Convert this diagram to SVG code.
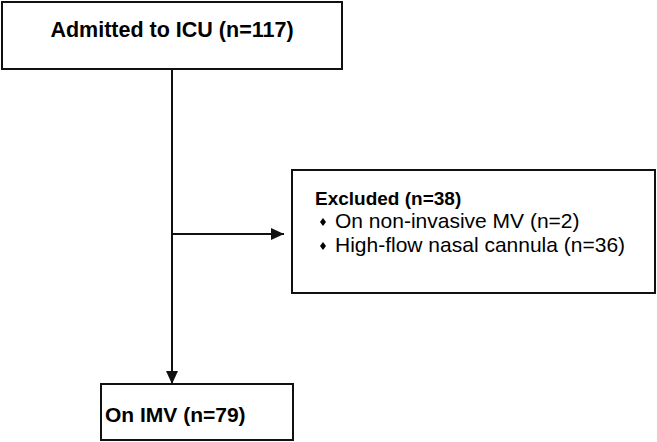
<svg xmlns="http://www.w3.org/2000/svg" width="657" height="442" viewBox="0 0 657 442">
<style>
.box{fill:#fff;stroke:#111;stroke-width:2}
.ln{stroke:#111;stroke-width:2;fill:none}
.t{font-family:"Liberation Sans",Arial,sans-serif;fill:#000}
.b{font-weight:bold}
</style>
<defs>
<marker id="ah" markerWidth="13" markerHeight="12" refX="13" refY="6" orient="auto" markerUnits="userSpaceOnUse">
<path d="M0,0 L13,6 L0,12 Z" fill="#111"/>
</marker>
</defs>
<rect width="657" height="442" fill="#fff"/>
<g id="connectors">
<line class="ln" x1="172" y1="69" x2="172" y2="384" marker-end="url(#ah)"/>
<line class="ln" x1="172" y1="234" x2="284" y2="234" marker-end="url(#ah)"/>
</g>
<g id="admitted">
<rect class="box" x="2" y="2" width="340" height="67"/>
<text class="t b" x="172" y="37" font-size="21.5" text-anchor="middle">Admitted to ICU (n=117)</text>
</g>
<g id="excluded">
<rect class="box" x="292" y="170" width="363" height="123"/>
<text class="t b" x="315" y="205" font-size="19">Excluded (n=38)</text>
<path d="M323,218 L326,222 L323,226 L320,222 Z" fill="#000"/>
<text class="t" x="335" y="228" font-size="21">On non-invasive MV (n=2)</text>
<path d="M323,242 L326,246 L323,250 L320,246 Z" fill="#000"/>
<text class="t" x="335" y="252" font-size="21">High-flow nasal cannula (n=36)</text>
</g>
<g id="imv">
<rect class="box" x="101" y="384" width="192" height="56"/>
<text class="t b" x="105" y="422" font-size="21">On IMV (n=79)</text>
</g>
</svg>
